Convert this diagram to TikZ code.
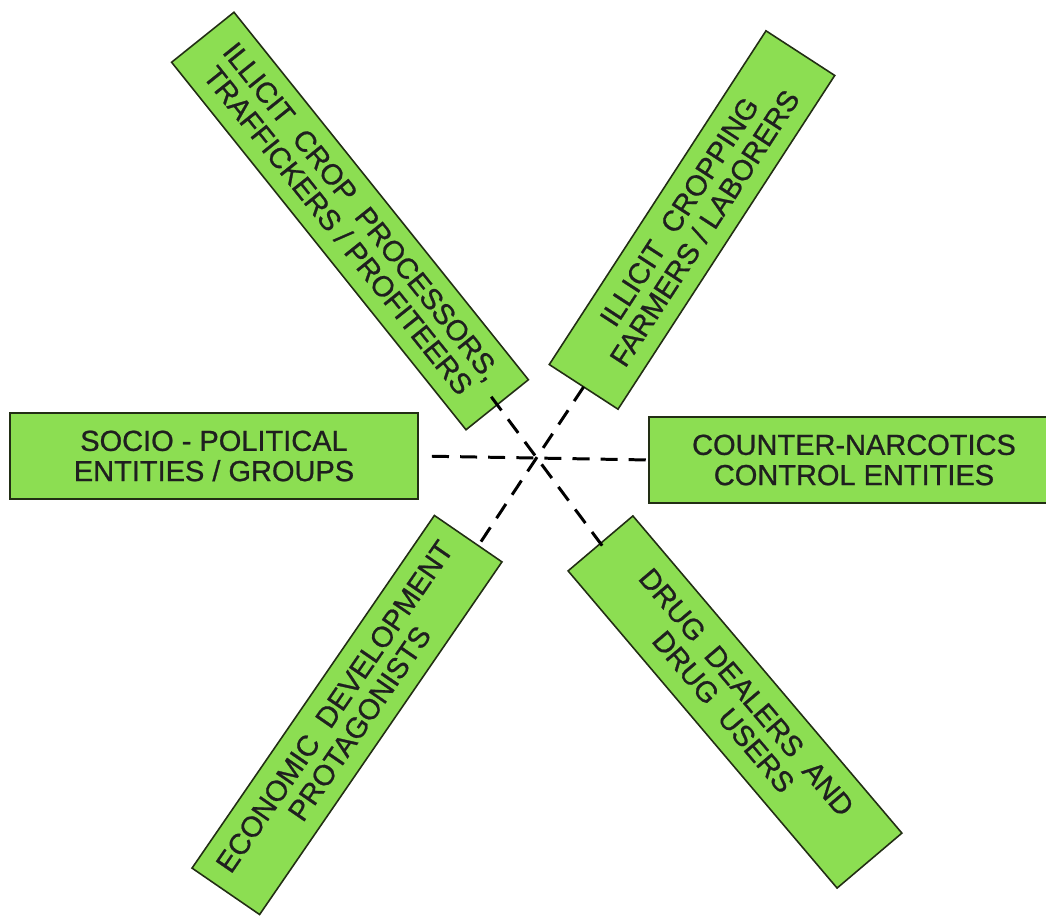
\documentclass[tikz,border=0pt]{standalone}
\usepackage{fontspec}
\setmainfont{Liberation Sans}
\newfontfamily\actorfont{Liberation Sans}[FakeBold=0.8]
\usetikzlibrary{calc}
\definecolor{leafgreen}{RGB}{140,222,82}
\definecolor{edgegreen}{RGB}{34,46,20}
\tikzset{
  actor/.style={draw=edgegreen, line width=0.9pt, fill=leafgreen, inner sep=0pt, outer sep=0pt,
    align=center, text=black!88, font=\actorfont\fontsize{16.5}{17.2}\selectfont},
  link/.style={line width=1.7pt, dash pattern=on 9.7pt off 6.3pt}
}

\begin{document}
\begin{tikzpicture}[x=0.02cm, y=-0.02cm]
		%%%%% START %%%%%
		\useasboundingbox (0,0) rectangle (1046,916);

		\node[actor, minimum width=8.16cm, minimum height=1.72cm] (socio) at (214,456) {SOCIO - POLITICAL\\ENTITIES / GROUPS};
		\node[actor, minimum width=8.2cm, minimum height=1.72cm] (counter) at (854,460) {COUNTER-NARCOTICS\\CONTROL ENTITIES};

		\node[actor, rotate=-51.3, minimum width=9.42cm, minimum height=1.6cm] (proc) at (350,221) {ILLICIT~ CROP~ PROCESSORS,\\TRAFFICKERS / PROFITEERS};
		\node[actor, rotate=57, minimum width=7.96cm, minimum height=1.64cm] (farm) at (692,220) {ILLICIT~ CROPPING\\FARMERS / LABORERS};
		\node[actor, rotate=55.5, minimum width=8.56cm, minimum height=1.64cm] (econ) at (347,715) {ECONOMIC~ DEVELOPMENT\\PROTAGONISTS};
		\node[actor, rotate=-49.7, minimum width=8.32cm, minimum height=1.7cm] (drug) at (735,702) {DRUG~ DEALERS~ AND\\DRUG~ USERS};

		\draw[link, shorten <=0.28cm] (socio.east) -- (counter.west);
		\draw[link, shorten <=-0.2cm, shorten >=-0.2cm] (proc.east) -- (drug.west);
		\draw[link, shorten >=-0.12cm] (farm.west) -- ($(econ.north east)!0.65!(econ.south east)$);

		%%%%% END %%%%%
\end{tikzpicture}
\end{document}
